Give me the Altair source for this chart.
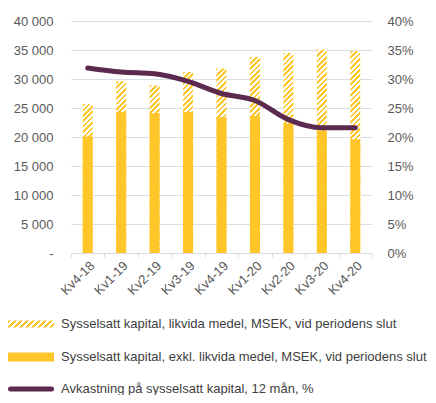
import altair as alt
import pandas as pd

# ---- data ----
cats = ["Kv4-18", "Kv1-19", "Kv2-19", "Kv3-19", "Kv4-19", "Kv1-20", "Kv2-20", "Kv3-20", "Kv4-20"]
total_capital = [25700, 29600, 28900, 31200, 31800, 33800, 34500, 35100, 34800]
excl_liquid = [20100, 24300, 24100, 24300, 23400, 23600, 22300, 21100, 19600]
roce_pct = [31.9, 31.2, 30.9, 29.6, 27.5, 26.3, 23.0, 21.6, 21.6]
left_ticks = [0, 5000, 10000, 15000, 20000, 25000, 30000, 35000, 40000]
right_ticks = [0, 0.05, 0.10, 0.15, 0.20, 0.25, 0.30, 0.35, 0.40]
legend_labels = [
    "Sysselsatt kapital, likvida medel, MSEK, vid periodens slut",
    "Sysselsatt kapital, exkl. likvida medel, MSEK, vid periodens slut",
    "Avkastning på sysselsatt kapital, 12 mån, %",
]

# ---- styling ----
YELLOW = "#FFC629"
WHITE = "#FFFFFF"
PURPLE = "#5C2A4E"
GRID = "#D9DEE4"
FONT = "Liberation Sans"
W_PLOT, H_PLOT = 301, 232
BAR_W = 10
YMAX = 40000


def hatch_gradient(w, h, period=5.4, frac=0.5):
    """Linear gradient with hard stops -> diagonal '/' stripes on a w x h box."""
    s = w + h
    k = s / (w * w + h * h)
    stops = []
    i = 0
    while i * period < s:
        a = round(i * period / s, 5)
        b = round(min((i * period + frac * period) / s, 1), 5)
        c = round(min((i + 1) * period / s, 1), 5)
        stops += [
            {"offset": a, "color": YELLOW},
            {"offset": b, "color": YELLOW},
            {"offset": b, "color": WHITE},
            {"offset": c, "color": WHITE},
        ]
        i += 1
    return {"gradient": "linear", "x1": 0, "y1": 0, "x2": k * w, "y2": k * h, "stops": stops}


records = []
for c, t, e, r in zip(cats, total_capital, excl_liquid, roce_pct):
    records.append({
        "cat": c,
        "total": t,
        "excl": e,
        "roce": r / 100,
        "grad": hatch_gradient(BAR_W, t / YMAX * H_PLOT),
    })

base = alt.Chart(alt.Data(values=records))

xenc = alt.X(
    "cat:N", sort=cats, title=None,
    scale=alt.Scale(paddingInner=0, paddingOuter=0),
    axis=alt.Axis(labelAngle=-45, tickBand="extent", tickSize=4, tickColor=GRID,
                  domainColor=GRID, grid=False, labelPadding=2),
)

left_scale = alt.Scale(domain=[0, YMAX], nice=False)

hatch = base.mark_bar(size=BAR_W).encode(
    x=xenc,
    y=alt.Y("total:Q", stack=None, title=None, scale=left_scale,
            axis=alt.Axis(values=left_ticks, grid=True, gridColor=GRID, domain=False,
                          ticks=False, labelPadding=18,
                          labelExpr="datum.value == 0 ? '-\u00a0\u00a0' : replace(format(datum.value, ','), ',', ' ')")),
    fill=alt.Fill("grad:N", scale=None),
)

solid = base.mark_bar(size=BAR_W, color=YELLOW).encode(
    x=xenc,
    y=alt.Y("excl:Q", stack=None, title=None, scale=left_scale, axis=None),
)

line = base.mark_line(color=PURPLE, strokeWidth=5, interpolate="monotone", strokeCap="round").encode(
    x=xenc,
    y=alt.Y("roce:Q", title=None, scale=alt.Scale(domain=[0, 0.4], nice=False),
            axis=alt.Axis(orient="right", values=right_ticks, format=".0%", grid=False,
                          domain=False, ticks=False, labelPadding=15)),
)

one = alt.Data(values=[{"k": 1}])
row_y = [303, 336, 368]

leg_hatch = alt.Chart(one).mark_rect(fill=hatch_gradient(46, 7, period=6.0)).encode(
    x=alt.value(-63), x2=alt.value(-17), y=alt.value(row_y[0] - 3.5), y2=alt.value(row_y[0] + 3.5))
leg_solid = alt.Chart(one).mark_rect(color=YELLOW).encode(
    x=alt.value(-63), x2=alt.value(-17), y=alt.value(row_y[1] - 4.5), y2=alt.value(row_y[1] + 4.5))
leg_line = alt.Chart(one).mark_rule(color=PURPLE, strokeWidth=5, strokeCap="round").encode(
    x=alt.value(-60.5), x2=alt.value(-19.5), y=alt.value(row_y[2]))

texts = [
    alt.Chart(one).mark_text(align="left", baseline="middle", font=FONT, fontSize=13,
                             color="#404040").encode(
        x=alt.value(-10), y=alt.value(yy), text=alt.value(lbl))
    for lbl, yy in zip(legend_labels, row_y)
]

chart = alt.layer(hatch, solid, line, leg_hatch, leg_solid, leg_line, *texts).resolve_scale(
    y="independent"
).properties(
    width=W_PLOT, height=H_PLOT,
    autosize=alt.AutoSizeParams(type="none"),
    padding={"left": 63, "top": 13, "right": 56, "bottom": 142},
).configure_view(stroke=None).configure_axis(
    labelFont=FONT, labelFontSize=13, labelColor="#595959"
)

chart.save("out.html", embed_options={"renderer": "svg", "actions": False})
